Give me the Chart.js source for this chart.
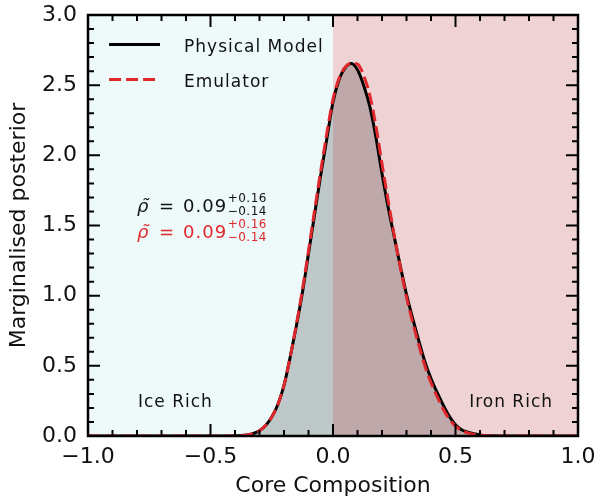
<!DOCTYPE html>
<html>
<head>
<meta charset="utf-8">
<script src="https://cdn.jsdelivr.net/npm/chart.js@4"></script>
<style>
  html, body { margin: 0; padding: 0; background: #fff; }
</style>
</head>
<body>
<canvas id="c" width="598" height="497"></canvas>
<script>
// --- data ---
const composition = [
  -1.0, -0.45, -0.425, -0.4, -0.375, -0.35, -0.325, -0.3, -0.275, -0.25, -0.225, -0.2,
  -0.175, -0.15, -0.125, -0.1, -0.075, -0.05, -0.025, 0.0, 0.025, 0.05, 0.075, 0.1,
  0.125, 0.15, 0.175, 0.2, 0.225, 0.25, 0.275, 0.3, 0.325, 0.35, 0.375, 0.4,
  0.425, 0.45, 0.475, 0.5, 0.525, 0.55, 0.575, 0.6, 0.625, 0.65, 0.675, 1.0
];
const physicalModel = [
  0, 0, 0, 0.001, 0.003, 0.008, 0.018, 0.038, 0.075, 0.135, 0.225, 0.36,
  0.56, 0.78, 1.02, 1.30, 1.58, 1.86, 2.12, 2.38, 2.54, 2.625, 2.655, 2.61,
  2.50, 2.35, 2.13, 1.87, 1.63, 1.42, 1.21, 1.01, 0.84, 0.68, 0.53, 0.41,
  0.31, 0.22, 0.14, 0.08, 0.045, 0.028, 0.016, 0.008, 0.003, 0.001, 0, 0
];
const emulator = [
  0, 0, 0, 0.001, 0.003, 0.008, 0.018, 0.038, 0.075, 0.135, 0.225, 0.36,
  0.56, 0.79, 1.04, 1.32, 1.61, 1.89, 2.16, 2.40, 2.55, 2.63, 2.655, 2.65,
  2.57, 2.43, 2.21, 1.94, 1.68, 1.43, 1.20, 0.99, 0.81, 0.65, 0.50, 0.38,
  0.28, 0.19, 0.12, 0.07, 0.04, 0.022, 0.012, 0.006, 0.002, 0.001, 0, 0
];
const xMajorTicks = [-1, -0.5, 0, 0.5, 1];
const yMajorTicks = [0, 0.5, 1, 1.5, 2, 2.5, 3];
const legendLabels = ['Physical Model', 'Emulator'];
const regionLabels = ['Ice Rich', 'Iron Rich'];
const medianText = '0.09';
const upperErr = '+0.16';
const lowerErr = '\u22120.14';

const FONT = '"DejaVu Sans", sans-serif';
const RED = '#e0282c';

function fmt(v) {
  return (v < 0 ? '\u2212' : '') + Math.abs(v).toFixed(1);
}

// background regions, frame with inward ticks, legend and labels
const decor = {
  id: 'decor',
  beforeDatasetsDraw(chart) {
    const { ctx, chartArea: a, scales: { x } } = chart;
    const x0 = x.getPixelForValue(0);
    ctx.save();
    ctx.fillStyle = '#eefafa';
    ctx.fillRect(a.left, a.top, x0 - a.left, a.bottom - a.top);
    ctx.fillStyle = '#efd3d4';
    ctx.fillRect(x0, a.top, a.right - x0, a.bottom - a.top);
    ctx.restore();
  },
  afterDatasetsDraw(chart) {
    const { ctx, chartArea: a, scales: { x, y } } = chart;
    ctx.save();

    // ticks (major every 0.5, minor every 0.1), pointing inward on all sides
    ctx.strokeStyle = '#000';
    ctx.lineWidth = 2;
    for (let i = -10; i <= 10; i++) {
      const px = x.getPixelForValue(i / 10);
      const len = i % 5 === 0 ? 12 : 6;
      ctx.beginPath();
      ctx.moveTo(px, a.bottom); ctx.lineTo(px, a.bottom - len);
      ctx.moveTo(px, a.top); ctx.lineTo(px, a.top + len);
      ctx.stroke();
    }
    for (let i = 0; i <= 30; i++) {
      const py = y.getPixelForValue(i / 10);
      const len = i % 5 === 0 ? 12 : 6;
      ctx.beginPath();
      ctx.moveTo(a.left, py); ctx.lineTo(a.left + len, py);
      ctx.moveTo(a.right, py); ctx.lineTo(a.right - len, py);
      ctx.stroke();
    }
    ctx.lineWidth = 2.5;
    ctx.strokeRect(a.left, a.top, a.right - a.left, a.bottom - a.top);

    // legend
    ctx.lineWidth = 3;
    ctx.strokeStyle = '#000';
    ctx.beginPath();
    ctx.moveTo(x.getPixelForValue(-0.914), y.getPixelForValue(2.79));
    ctx.lineTo(x.getPixelForValue(-0.706), y.getPixelForValue(2.79));
    ctx.stroke();
    ctx.strokeStyle = RED;
    ctx.setLineDash([12, 5]);
    ctx.beginPath();
    ctx.moveTo(x.getPixelForValue(-0.914), y.getPixelForValue(2.54));
    ctx.lineTo(x.getPixelForValue(-0.706), y.getPixelForValue(2.54));
    ctx.stroke();
    ctx.setLineDash([]);

    ctx.fillStyle = '#111';
    ctx.font = '17px ' + FONT;
    ctx.letterSpacing = '1px';
    ctx.textBaseline = 'middle';
    ctx.textAlign = 'left';
    ctx.fillText(legendLabels[0], x.getPixelForValue(-0.608), y.getPixelForValue(2.77));
    ctx.fillText(legendLabels[1], x.getPixelForValue(-0.608), y.getPixelForValue(2.52));

    // region labels
    ctx.fillText(regionLabels[0], x.getPixelForValue(-0.796), y.getPixelForValue(0.24));
    ctx.textAlign = 'right';
    ctx.fillText(regionLabels[1], x.getPixelForValue(0.898), y.getPixelForValue(0.24));

    // median with errors
    function medianLine(yv, color) {
      const py = y.getPixelForValue(yv);
      ctx.fillStyle = color;
      ctx.textAlign = 'left';
      ctx.letterSpacing = '0px';
      ctx.font = 'italic 18px ' + FONT;
      ctx.fillText('\u03C1\u0303', x.getPixelForValue(-0.8), py);
      ctx.font = '18px ' + FONT;
      ctx.fillText('=', x.getPixelForValue(-0.71), py);
      ctx.letterSpacing = '1px';
      ctx.fillText(medianText, x.getPixelForValue(-0.612), py);
      ctx.font = '12px ' + FONT;
      ctx.letterSpacing = '0.5px';
      ctx.fillText(upperErr, x.getPixelForValue(-0.43), py - 8);
      ctx.fillText(lowerErr, x.getPixelForValue(-0.43), py + 5);
    }
    medianLine(1.63, '#111');
    medianLine(1.445, RED);

    ctx.restore();
  }
};

new Chart(document.getElementById('c'), {
  type: 'line',
  data: {
    datasets: [
      {
        label: legendLabels[1],
        data: composition.map((c, i) => ({ x: c, y: emulator[i] })),
        borderColor: RED,
        borderWidth: 3,
        borderDash: [12, 5],
        pointRadius: 0,
        cubicInterpolationMode: 'monotone',
        fill: false
      },
      {
        label: legendLabels[0],
        data: composition.map((c, i) => ({ x: c, y: physicalModel[i] })),
        borderColor: '#000',
        borderWidth: 3,
        pointRadius: 0,
        cubicInterpolationMode: 'monotone',
        fill: 'origin',
        backgroundColor: 'rgba(0,0,0,0.2)'
      }
    ]
  },
  options: {
    responsive: false,
    animation: false,
    layout: { padding: { top: 15, right: 20, left: 0, bottom: 0 } },
    plugins: { legend: { display: false }, tooltip: { enabled: false } },
    scales: {
      x: {
        type: 'linear', min: -1, max: 1,
        afterBuildTicks: s => { s.ticks = xMajorTicks.map(v => ({ value: v })); },
        afterFit: s => { s.height = 61; s.paddingLeft = 0; s.paddingRight = 0; },
        grid: { display: false, drawTicks: false },
        border: { display: false },
        ticks: {
          callback: v => fmt(v), padding: 8, maxRotation: 0, autoSkip: false,
          color: '#111', font: { family: FONT, size: 22 }
        },
        title: {
          display: true, text: 'Core Composition', color: '#111',
          font: { family: FONT, size: 22 }, padding: { top: 0, bottom: -2 }
        }
      },
      y: {
        min: 0, max: 3,
        afterBuildTicks: s => { s.ticks = yMajorTicks.map(v => ({ value: v })); },
        afterFit: s => { s.width = 88; s.paddingTop = 0; s.paddingBottom = 0; },
        grid: { display: false, drawTicks: false },
        border: { display: false },
        ticks: {
          callback: v => fmt(v), padding: 11,
          color: '#111', font: { family: FONT, size: 22 }
        },
        title: {
          display: true, text: 'Marginalised posterior', color: '#111',
          font: { family: FONT, size: 22 }, padding: { top: 6, bottom: 0 }
        }
      }
    }
  },
  plugins: [decor]
});
</script>
</body>
</html>
